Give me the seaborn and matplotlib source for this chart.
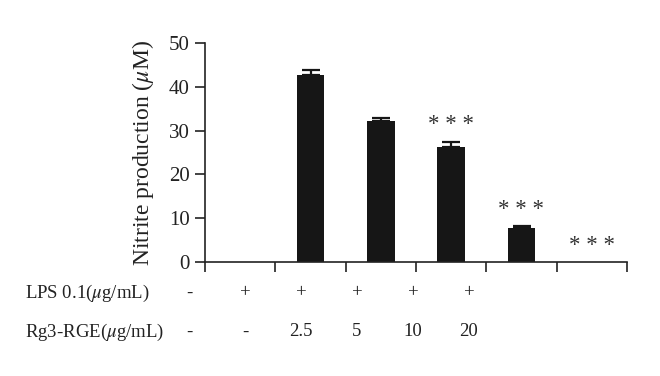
import numpy as np
import matplotlib
matplotlib.use("Agg")
import matplotlib.pyplot as plt
import seaborn as sns

# data
groups = ["ctrl", "LPS", "2.5", "5", "10", "20"]
nitrite = [0.0, 42.8, 32.3, 26.3, 7.8, 0.0]
nitrite_err = [0.0, 1.0, 0.5, 1.2, 0.4, 0.0]
signif = ["", "", "", "***", "***", "***"]
lps_row = ["-", "+", "+", "+", "+", "+"]
rg3_row = ["-", "-", "2.5", "5", "10", "20"]
yticks = [0, 10, 20, 30, 40, 50]

sns.set_theme(style="ticks")
plt.rcParams["font.family"] = ["Liberation Serif", "DejaVu Serif"]
plt.rcParams["mathtext.fontset"] = "stix"

fig = plt.figure(figsize=(6.6, 3.76), dpi=100)
W, H = 660, 376
ax = fig.add_axes([205 / W, 1 - 262 / H, (627 - 205) / W, (262 - 43) / H])

sns.barplot(x=groups, y=nitrite, color="#161616", width=0.39, ax=ax,
            linewidth=0, errorbar=None)

xs = np.arange(len(groups))
val = np.array(nitrite)
err = np.array(nitrite_err)
keep = err > 0
ax.errorbar(xs[keep], val[keep], yerr=[np.zeros(keep.sum()), err[keep]],
            fmt="none", ecolor="#161616", elinewidth=1.6, capsize=6.5,
            capthick=1.6)

for x, v, e, s in zip(xs, nitrite, nitrite_err, signif):
    if s:
        ax.text(x, v + e + 3.8, " ".join(s), ha="center", va="center",
                fontsize=16.5, color="#333333")

ax.set_xlim(-0.5, len(groups) - 0.5)
ax.set_ylim(0, 50)
ax.set_yticks(yticks)
ax.set_yticklabels([str(t) for t in yticks], fontsize=15, color="#222222")
ax.set_xticks(np.arange(len(groups) + 1) - 0.5)
ax.set_xticklabels([])
ax.tick_params(axis="both", length=7, width=1.2, color="#222222")
ax.tick_params(axis="y", pad=4)
sns.despine(ax=ax)
for sp in ("left", "bottom"):
    ax.spines[sp].set_linewidth(1.2)
    ax.spines[sp].set_color("#222222")
ax.set_ylabel(r"Nitrite production ($\mu$M)", fontsize=17, color="#222222",
              labelpad=9)
ax.set_xlabel("")

# treatment table under the axis
col_x0, col_dx = 189, 56
rows = [(r"LPS 0.1($\mu$g/mL)", lps_row, 293), (r"Rg3-RGE($\mu$g/mL)", rg3_row, 332)]
for label, vals, ypx in rows:
    fig.text(25 / W, 1 - ypx / H, label, ha="left", va="center",
             fontsize=13.5, color="#222222")
    for i, v in enumerate(vals):
        fig.text((col_x0 + col_dx * i) / W, 1 - ypx / H, v, ha="center",
                 va="center", fontsize=13.5, color="#222222")

fig.savefig("out.png", dpi=100)
